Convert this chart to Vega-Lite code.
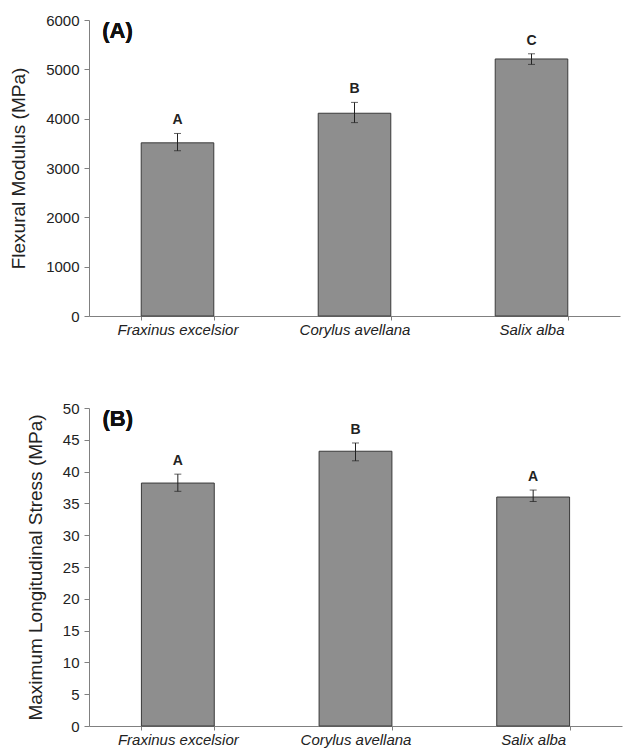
{
  "$schema": "https://vega.github.io/schema/vega-lite/v6.json",
  "padding": {"top": 13, "left": 9, "right": 2, "bottom": 2},
  "background": "white",
  "spacing": 64,
  "datasets": {
    "modulus": [
      {"species": "Fraxinus excelsior", "value": 3510, "lo": 3350, "hi": 3700, "group": "A"},
      {"species": "Corylus avellana", "value": 4110, "lo": 3920, "hi": 4330, "group": "B"},
      {"species": "Salix alba", "value": 5210, "lo": 5100, "hi": 5315, "group": "C"}
    ],
    "stress": [
      {"species": "Fraxinus excelsior", "value": 38.2, "lo": 36.9, "hi": 39.6, "group": "A"},
      {"species": "Corylus avellana", "value": 43.2, "lo": 41.7, "hi": 44.5, "group": "B"},
      {"species": "Salix alba", "value": 36.0, "lo": 35.3, "hi": 37.1, "group": "A"}
    ]
  },
  "config": {
    "view": {"stroke": null},
    "font": "Liberation Sans",
    "axis": {
      "grid": false,
      "domainColor": "#808080",
      "tickColor": "#808080",
      "labelColor": "#222222",
      "titleColor": "#222222",
      "labelFont": "Liberation Sans",
      "titleFont": "Liberation Sans",
      "titleFontWeight": "normal"
    },
    "axisY": {"format": "d", "titleFontSize": 19, "labelFontSize": 15, "tickSize": 5, "labelPadding": 5, "titlePadding": 17}
  },
  "vconcat": [
    {
      "width": 531,
      "height": 296,
      "data": {"name": "modulus"},
      "encoding": {
        "x": {
          "field": "species", "type": "nominal", "sort": null,
          "scale": {"paddingInner": 0.59, "paddingOuter": 0.295},
          "axis": {"title": null, "labelAngle": 0, "labelFontSize": 15, "labelFontStyle": "italic", "tickBand": "extent", "tickSize": 4, "labelPadding": 2}
        }
      },
      "layer": [
        {
          "mark": {"type": "bar", "color": "#8e8e8e", "stroke": "#3a3a3a", "strokeWidth": 1},
          "encoding": {
            "y": {"field": "value", "type": "quantitative", "scale": {"domain": [0, 6000]}, "title": "Flexural Modulus (MPa)",
              "axis": {"values": [0,1000,2000,3000,4000,5000,6000]}}
          }
        },
        {
          "mark": {"type": "errorbar", "ticks": {"size": 7, "color": "#222222"}, "rule": {"color": "#222222"}},
          "encoding": {
            "y": {"field": "lo", "type": "quantitative", "title": "Flexural Modulus (MPa)", "axis": {"values": [0,1000,2000,3000,4000,5000,6000]}},
            "y2": {"field": "hi"}
          }
        },
        {
          "mark": {"type": "text", "baseline": "bottom", "dy": -6, "fontSize": 14, "fontWeight": "bold", "color": "#222222"},
          "encoding": {
            "y": {"field": "hi", "type": "quantitative", "title": "Flexural Modulus (MPa)", "axis": {"values": [0,1000,2000,3000,4000,5000,6000]}},
            "text": {"field": "group"}
          }
        },
        {
          "mark": {"type": "text", "align": "left", "baseline": "top", "dx": -39, "dy": 1, "fontSize": 22, "fontWeight": "bold", "color": "#111111", "text": "(A)"},
          "encoding": {
            "x": {"datum": "Fraxinus excelsior", "bandPosition": 0},
            "y": {"datum": 6000, "type": "quantitative", "title": "Flexural Modulus (MPa)", "axis": {"values": [0,1000,2000,3000,4000,5000,6000]}}
          }
        }
      ]
    },
    {
      "width": 533,
      "height": 318,
      "data": {"name": "stress"},
      "encoding": {
        "x": {
          "field": "species", "type": "nominal", "sort": null,
          "scale": {"paddingInner": 0.59, "paddingOuter": 0.295},
          "axis": {"title": null, "labelAngle": 0, "labelFontSize": 15, "labelFontStyle": "italic", "tickBand": "extent", "tickSize": 4, "labelPadding": 2}
        }
      },
      "layer": [
        {
          "mark": {"type": "bar", "color": "#8e8e8e", "stroke": "#3a3a3a", "strokeWidth": 1},
          "encoding": {
            "y": {"field": "value", "type": "quantitative", "scale": {"domain": [0, 50]}, "title": "Maximum Longitudinal Stress (MPa)",
              "axis": {"values": [0,5,10,15,20,25,30,35,40,45,50]}}
          }
        },
        {
          "mark": {"type": "errorbar", "ticks": {"size": 7, "color": "#222222"}, "rule": {"color": "#222222"}},
          "encoding": {
            "y": {"field": "lo", "type": "quantitative", "title": "Maximum Longitudinal Stress (MPa)", "axis": {"values": [0,5,10,15,20,25,30,35,40,45,50]}},
            "y2": {"field": "hi"}
          }
        },
        {
          "mark": {"type": "text", "baseline": "bottom", "dy": -6, "fontSize": 14, "fontWeight": "bold", "color": "#222222"},
          "encoding": {
            "y": {"field": "hi", "type": "quantitative", "title": "Maximum Longitudinal Stress (MPa)", "axis": {"values": [0,5,10,15,20,25,30,35,40,45,50]}},
            "text": {"field": "group"}
          }
        },
        {
          "mark": {"type": "text", "align": "left", "baseline": "top", "dx": -39, "dy": 1, "fontSize": 22, "fontWeight": "bold", "color": "#111111", "text": "(B)"},
          "encoding": {
            "x": {"datum": "Fraxinus excelsior", "bandPosition": 0},
            "y": {"datum": 50, "type": "quantitative", "title": "Maximum Longitudinal Stress (MPa)", "axis": {"values": [0,5,10,15,20,25,30,35,40,45,50]}}
          }
        }
      ]
    }
  ]
}
